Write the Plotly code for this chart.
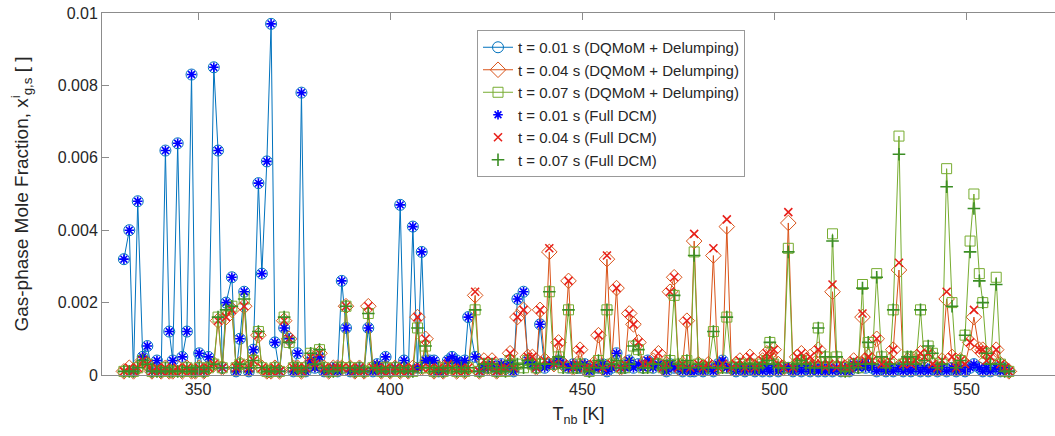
import plotly.graph_objects as go

# Normal boiling temperature of each component [K]
T_nb = [
    330.7, 332.1, 333.2, 334.3, 335.6, 336.8, 338.0, 339.3, 340.4, 341.5,
    342.5, 343.4, 344.7, 345.9, 347.1, 348.3, 349.3, 350.3, 351.5, 352.7,
    354.1, 355.2, 356.3, 357.3, 358.8, 359.9, 360.9, 362.0, 363.2, 364.4,
    365.7, 366.6, 367.9, 369.0, 370.0, 371.2, 372.4, 373.7, 374.8, 375.9,
    376.9, 378.0, 379.3, 380.4, 381.6, 382.8, 384.0, 385.2, 386.3, 387.4,
    388.5, 389.6, 390.8, 392.0, 393.2, 394.3, 395.5, 396.6, 397.7, 398.8,
    400.0, 401.3, 402.6, 403.6, 404.7, 405.9, 407.1, 408.2, 409.2, 410.3,
    411.4, 412.6, 413.8, 415.0, 416.1, 417.3, 418.5, 419.4, 420.3, 422.1,
    423.2, 424.4, 425.5, 426.5, 427.7, 428.9, 430.0, 431.2, 432.1, 433.1,
    434.7, 435.8, 437.0, 438.0, 439.0, 440.2, 441.4, 442.6, 443.8, 445.0,
    446.4, 447.6, 448.6, 449.4, 450.6, 451.8, 453.0, 454.2, 455.3, 456.4,
    457.6, 458.9, 460.0, 461.1, 462.2, 463.3, 464.6, 465.8, 467.0, 468.4,
    469.8, 471.0, 471.9, 472.8, 473.9, 475.0, 476.1, 477.2, 478.1, 479.1,
    480.2, 481.4, 482.8, 484.1, 485.3, 486.5, 487.6, 488.8, 490.0, 491.0,
    492.3, 493.6, 494.9, 496.0, 496.9, 498.0, 498.8, 499.8, 501.0, 502.4,
    503.6, 504.8, 505.9, 507.0, 508.2, 509.3, 510.4, 511.4, 512.3, 513.2,
    514.2, 515.1, 516.2, 517.3, 518.4, 519.5, 520.6, 521.8, 522.9, 523.7,
    524.4, 525.4, 526.6, 527.9, 529.0, 530.0, 530.9, 532.4, 533.5, 534.6,
    535.5, 536.8, 538.0, 539.0, 540.0, 541.1, 542.4, 543.6, 544.8, 546.2,
    547.3, 548.4, 549.6, 550.9, 551.9, 553.3, 554.2, 555.2, 556.2, 557.7,
    558.8, 559.9, 561.0,
]

# DQMoM + Delumping, t = 0.01 s
dq_001 = [
    0.0032, 0.0040, 0.0001, 0.0048, 0.0005, 0.0008, 0.0001, 0.0004, 0.0001, 0.0062,
    0.0012, 0.0004, 0.0064, 0.0005, 0.0012, 0.0083, 0.0001, 0.0006, 0.0001, 0.0005,
    0.0085, 0.0062, 0.0002, 0.0020, 0.0027, 0.0001, 0.0010, 0.0023, 0.0001, 0.0007,
    0.0053, 0.0028, 0.0059, 0.0097, 0.0009, 0.0001, 0.0013, 0.0010, 0.0001, 0.0006,
    0.0078, 0.0001, 0.0004, 0.0002, 0.0005, 0.0001, 0.0001, 0.0002, 0.0001, 0.0026,
    0.0013, 0.0001, 0.0001, 0.0002, 0.0001, 0.0013, 0.0001, 0.0003, 0.0001, 0.0005,
    0.0001, 0.0002, 0.0047, 0.0004, 0.0001, 0.0041, 0.0002, 0.0034, 0.0004, 0.0004,
    0.0004, 0.0001, 0.0001, 0.0004, 0.0005, 0.0004, 0.0003, 0.0004, 0.0016, 0.0005,
    0.0001, 0.0002, 0.0002, 0.0003, 0.0001, 0.0003, 0.0002, 0.0003, 0.0001, 0.0021,
    0.0023, 0.0004, 0.0003, 0.0002, 0.0014, 0.0002, 0.0003, 0.0003, 0.0004, 0.0003,
    0.0002, 0.0003, 0.0002, 0.0002, 0.0003, 0.0001, 0.0002, 0.0002, 0.0003, 0.0001,
    0.0002, 0.0006, 0.0002, 0.0002, 0.0004, 0.0002, 0.0003, 0.0002, 0.0004, 0.0002,
    0.0003, 0.0002, 0.0001, 0.0003, 0.0002, 0.0002, 0.0001, 0.0002, 0.0001, 0.0001,
    0.0002, 0.0001, 0.0002, 0.0001, 0.0003, 0.0004, 0.0002, 0.0002, 0.0001, 0.0002,
    0.0001, 0.0002, 0.0001, 0.0002, 0.0001, 0.0002, 0.0001, 0.0002, 0.0001, 0.0002,
    0.0002, 0.0001, 0.0002, 0.0001, 0.0002, 0.0001, 0.0002, 0.0001, 0.0002, 0.0001,
    0.0002, 0.0001, 0.0002, 0.0001, 0.0002, 0.0001, 0.0003, 0.0002, 0.0003, 0.0002,
    0.0003, 0.0002, 0.0001, 0.0002, 0.0001, 0.0002, 0.0001, 0.0002, 0.0001, 0.0002,
    0.0001, 0.0002, 0.0001, 0.0002, 0.0001, 0.0002, 0.0001, 0.0002, 0.0001, 0.0002,
    0.0001, 0.0002, 0.0001, 0.0002, 0.0003, 0.0002, 0.0001, 0.0002, 0.0001, 0.0002,
    0.0001, 0.0002, 0.0001,
]

# DQMoM + Delumping, t = 0.04 s
dq_004 = [
    0.0001, 0.0002, 0.0001, 0.0002, 0.0004, 0.0003, 0.0001, 0.0002, 0.0001, 0.0002,
    0.0001, 0.0001, 0.0002, 0.0001, 0.0002, 0.0001, 0.0001, 0.0002, 0.0001, 0.0002,
    0.0003, 0.0015, 0.0002, 0.0016, 0.0018, 0.0002, 0.0003, 0.0019, 0.0002, 0.0004,
    0.0011, 0.0002, 0.0001, 0.0001, 0.0002, 0.0001, 0.0015, 0.0010, 0.0002, 0.0002,
    0.0001, 0.0002, 0.0005, 0.0003, 0.0006, 0.0002, 0.0001, 0.0002, 0.0002, 0.0002,
    0.0019, 0.0002, 0.0001, 0.0002, 0.0001, 0.0019, 0.0002, 0.0002, 0.0001, 0.0002,
    0.0001, 0.0002, 0.0001, 0.0002, 0.0001, 0.0002, 0.0016, 0.0002, 0.0010, 0.0002,
    0.0001, 0.0002, 0.0001, 0.0003, 0.0002, 0.0001, 0.0002, 0.0001, 0.0002, 0.0022,
    0.0001, 0.0004, 0.0002, 0.0004, 0.0001, 0.0002, 0.0002, 0.0006, 0.0002, 0.0016,
    0.0018, 0.0005, 0.0005, 0.0002, 0.0018, 0.0004, 0.0034, 0.0003, 0.0009, 0.0003,
    0.0026, 0.0002, 0.0003, 0.0007, 0.0002, 0.0002, 0.0003, 0.0011, 0.0002, 0.0032,
    0.0003, 0.0024, 0.0002, 0.0003, 0.0017, 0.0014, 0.0009, 0.0003, 0.0003, 0.0004,
    0.0006, 0.0002, 0.0003, 0.0023, 0.0027, 0.0002, 0.0003, 0.0015, 0.0002, 0.0037,
    0.0003, 0.0002, 0.0003, 0.0033, 0.0002, 0.0003, 0.0041, 0.0002, 0.0003, 0.0004,
    0.0002, 0.0005, 0.0002, 0.0003, 0.0004, 0.0006, 0.0005, 0.0007, 0.0003, 0.0002,
    0.0042, 0.0002, 0.0005, 0.0006, 0.0004, 0.0005, 0.0003, 0.0007, 0.0003, 0.0002,
    0.0003, 0.0023, 0.0002, 0.0003, 0.0002, 0.0002, 0.0004, 0.0003, 0.0016, 0.0004,
    0.0005, 0.0004, 0.0010, 0.0003, 0.0003, 0.0004, 0.0007, 0.0029, 0.0003, 0.0004,
    0.0003, 0.0004, 0.0006, 0.0005, 0.0006, 0.0003, 0.0002, 0.0004, 0.0021, 0.0005,
    0.0002, 0.0004, 0.0003, 0.0009, 0.0016, 0.0007, 0.0007, 0.0004, 0.0005, 0.0007,
    0.0003, 0.0002, 0.0001,
]

# DQMoM + Delumping, t = 0.07 s
dq_007 = [
    0.0001, 0.0001, 0.0001, 0.0002, 0.0004, 0.0003, 0.0001, 0.0001, 0.0001, 0.0002,
    0.0001, 0.0001, 0.0001, 0.0001, 0.0002, 0.0001, 0.0001, 0.0002, 0.0001, 0.0002,
    0.0003, 0.0016, 0.0002, 0.0018, 0.0019, 0.0002, 0.0003, 0.0021, 0.0002, 0.0004,
    0.0012, 0.0002, 0.0001, 0.0001, 0.0002, 0.0001, 0.0016, 0.0009, 0.0002, 0.0002,
    0.0001, 0.0002, 0.0006, 0.0003, 0.0007, 0.0002, 0.0001, 0.0001, 0.0002, 0.0002,
    0.0019, 0.0002, 0.0001, 0.0002, 0.0001, 0.0017, 0.0002, 0.0002, 0.0001, 0.0002,
    0.0001, 0.0002, 0.0001, 0.0002, 0.0001, 0.0001, 0.0013, 0.0002, 0.0008, 0.0002,
    0.0001, 0.0002, 0.0001, 0.0002, 0.0002, 0.0001, 0.0002, 0.0001, 0.0002, 0.0018,
    0.0001, 0.0003, 0.0002, 0.0003, 0.0001, 0.0002, 0.0001, 0.0004, 0.0002, 0.0003,
    0.0002, 0.0004, 0.0003, 0.0002, 0.0003, 0.0003, 0.0023, 0.0003, 0.0005, 0.0002,
    0.0018, 0.0002, 0.0002, 0.0003, 0.0002, 0.0001, 0.0002, 0.0004, 0.0002, 0.0018,
    0.0003, 0.0004, 0.0002, 0.0002, 0.0003, 0.0008, 0.0007, 0.0002, 0.0002, 0.0003,
    0.0003, 0.0002, 0.0002, 0.0004, 0.0022, 0.0003, 0.0002, 0.0004, 0.0002, 0.0034,
    0.0003, 0.0002, 0.0002, 0.0012, 0.0002, 0.0002, 0.0016, 0.0002, 0.0002, 0.0003,
    0.0002, 0.0003, 0.0002, 0.0002, 0.0003, 0.0004, 0.0009, 0.0003, 0.0002, 0.0002,
    0.0035, 0.0002, 0.0003, 0.0004, 0.0003, 0.0002, 0.0002, 0.0013, 0.0002, 0.0005,
    0.0002, 0.0039, 0.0005, 0.0002, 0.0001, 0.0002, 0.0003, 0.0002, 0.0025, 0.0003,
    0.0009, 0.0003, 0.0028, 0.0005, 0.0002, 0.0003, 0.0018, 0.0066, 0.0003, 0.0005,
    0.0005, 0.0003, 0.0018, 0.0004, 0.0008, 0.0006, 0.0002, 0.0003, 0.0057, 0.0020,
    0.0002, 0.0004, 0.0011, 0.0037, 0.0050, 0.0028, 0.0020, 0.0006, 0.0003, 0.0027,
    0.0003, 0.0001, 0.0001,
]

# Full DCM: read equal to the DQMoM values except at these components
dcm_001 = list(dq_001)
dcm_004_peaks = {422.1: 0.0023, 441.4: 0.0035, 456.4: 0.0033, 479.1: 0.0039,
                 484.1: 0.0035, 487.6: 0.0043, 503.6: 0.0045, 515.1: 0.0025,
                 522.9: 0.0017, 532.4: 0.0031, 544.8: 0.0023, 551.9: 0.0018}
dcm_007_peaks = {479.1: 0.0033, 503.6: 0.0034, 515.1: 0.0037, 522.9: 0.0024,
                 526.6: 0.0027, 532.4: 0.0061, 544.8: 0.0052, 546.2: 0.0019,
                 550.9: 0.0034, 551.9: 0.0046, 553.3: 0.0026, 557.7: 0.0025}
dcm_004 = [dcm_004_peaks.get(t, v) for t, v in zip(T_nb, dq_004)]
dcm_007 = [dcm_007_peaks.get(t, v) for t, v in zip(T_nb, dq_007)]

x_ticks = [350, 400, 450, 500, 550]
y_ticks = [0, 0.002, 0.004, 0.006, 0.008, 0.01]
y_tick_text = ["0", "0.002", "0.004", "0.006", "0.008", "0.01"]

labels = [
    "t = 0.01 s (DQMoM + Delumping)",
    "t = 0.04 s (DQMoM + Delumping)",
    "t = 0.07 s (DQMoM + Delumping)",
    "t = 0.01 s (Full DCM)",
    "t = 0.04 s (Full DCM)",
    "t = 0.07 s (Full DCM)",
]

fig = go.Figure()

dq_styles = [
    (dq_001, "#0072BD", "circle-open", 11),
    (dq_004, "#D95319", "diamond-open", 12),
    (dq_007, "#77AC30", "square-open", 10),
]
for (vals, col, sym, sz), name in zip(dq_styles, labels[:3]):
    fig.add_trace(go.Scatter(
        x=T_nb, y=vals, mode="lines+markers", name=name,
        line=dict(color=col, width=1),
        marker=dict(symbol=sym, size=sz, color=col, line=dict(color=col, width=1)),
        cliponaxis=False,
    ))

dcm_styles = [
    (dcm_001, "#0000FF", "asterisk-open", 8),
    (dcm_004, "#E8201A", "x-thin-open", 8),
    (dcm_007, "#3B8E25", "cross-thin-open", 9),
]
for (vals, col, sym, sz), name in zip(dcm_styles, labels[3:]):
    fig.add_trace(go.Scatter(
        x=T_nb, y=vals, mode="markers", name=name,
        marker=dict(symbol=sym, size=sz, color=col, line=dict(color=col, width=1.6)),
        cliponaxis=False,
    ))

axis_col = "#8c8c8c"
font_col = "#262626"
fig.update_layout(
    width=1055, height=436,
    margin=dict(l=102, r=0, t=13, b=61),
    paper_bgcolor="white", plot_bgcolor="white",
    font=dict(family="Liberation Sans, Arial, Helvetica, sans-serif", size=16, color=font_col),
    showlegend=True,
    legend=dict(
        x=0.3935, y=0.953, xanchor="left", yanchor="top",
        bgcolor="white", bordercolor="#999999", borderwidth=1,
        font=dict(size=15, color=font_col), tracegroupgap=0,
        itemwidth=30,
    ),
    xaxis=dict(
        range=[325, 573], tickvals=x_ticks, ticktext=[str(v) for v in x_ticks],
        ticks="inside", ticklen=7, tickcolor=axis_col,
        showline=True, linecolor=axis_col, linewidth=1, mirror="ticks",
        showgrid=False, zeroline=False, automargin=False,
        tickfont=dict(size=16),
        title=dict(text="T<sub>nb</sub> [K]", font=dict(size=18), standoff=10),
    ),
    yaxis=dict(
        range=[0, 0.01], tickvals=y_ticks, ticktext=y_tick_text,
        ticks="inside", ticklen=7, tickcolor=axis_col,
        showline=True, linecolor=axis_col, linewidth=1,
        showgrid=False, zeroline=False, automargin=False,
        tickfont=dict(size=16),
        title=dict(text="Gas-phase Mole Fraction, x<sup>i</sup><sub>g,s</sub> [ ]",
                   font=dict(size=19), standoff=24),
    ),
)

# Remove the browser's default page margin so the figure fills the window.
fig.write_html("out.html", config={"displayModeBar": False},
               post_script="document.body.style.margin = '0';")
